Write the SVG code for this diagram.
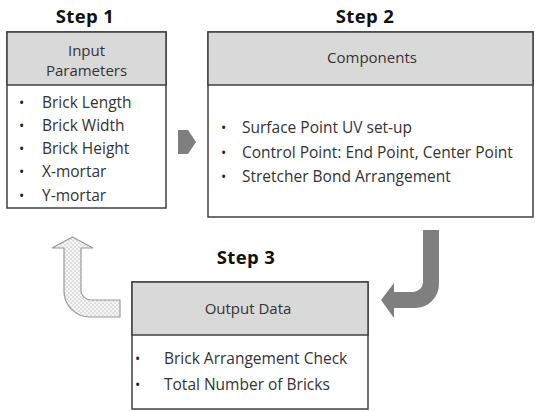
<svg xmlns="http://www.w3.org/2000/svg" width="535" height="411" viewBox="0 0 535 411">
  <style>
    .box { fill: #ffffff; stroke: #404040; stroke-width: 1.5; }
    .head { fill: #d9d9d9; stroke: #404040; stroke-width: 1.5; }
    .title { font-family: "Open Sans", "Noto Sans", sans-serif; font-size: 18.5px; font-weight: bold; fill: #111; text-anchor: middle; letter-spacing: 0.4px; }
    .hdr { font-family: "Open Sans", "Noto Sans", sans-serif; font-size: 15px; fill: #333; text-anchor: middle; }
    .item { font-family: "Open Sans", "Noto Sans", sans-serif; font-size: 15.5px; fill: #333; }
    .dot { font-family: "Open Sans", "Noto Sans", sans-serif; font-size: 14px; fill: #222; }
    .solid { fill: #7f7f7f; }
    .hollow { fill: url(#dots); stroke: #9a9a9a; stroke-width: 1.2; }
  </style>
  <defs>
    <pattern id="dots" width="4" height="4" patternUnits="userSpaceOnUse">
      <rect width="4" height="4" fill="#f6f6f6"/>
      <circle cx="1" cy="1" r="0.55" fill="#8a8a8a"/>
      <circle cx="3" cy="3" r="0.55" fill="#8a8a8a"/>
    </pattern>
  </defs>

  <rect width="535" height="411" fill="#ffffff"/>

  <!-- Step 1: input parameters -->
  <g id="step1">
    <text class="title" x="85" y="23">Step 1</text>
    <rect class="box" x="7" y="32" width="159" height="176"/>
    <rect class="head" x="7" y="32" width="159" height="53"/>
    <text class="hdr" x="86.5" y="56">Input</text>
    <text class="hdr" x="86.5" y="76">Parameters</text>
    <text class="dot" x="19" y="108">•</text>
    <text class="item" x="42" y="108">Brick Length</text>
    <text class="dot" x="19" y="131">•</text>
    <text class="item" x="42" y="131">Brick Width</text>
    <text class="dot" x="19" y="154">•</text>
    <text class="item" x="42" y="154">Brick Height</text>
    <text class="dot" x="19" y="177">•</text>
    <text class="item" x="42" y="177">X-mortar</text>
    <text class="dot" x="19" y="201">•</text>
    <text class="item" x="42" y="201">Y-mortar</text>
  </g>

  <!-- Step 2: components -->
  <g id="step2">
    <text class="title" x="365" y="23">Step 2</text>
    <rect class="box" x="208" y="32" width="325" height="185"/>
    <rect class="head" x="208" y="32" width="325" height="53"/>
    <text class="hdr" x="372" y="63">Components</text>
    <text class="dot" x="221" y="133">•</text>
    <text class="item" x="242" y="133">Surface Point UV set-up</text>
    <text class="dot" x="221" y="158">•</text>
    <text class="item" x="242" y="158">Control Point: End Point, Center Point</text>
    <text class="dot" x="221" y="182">•</text>
    <text class="item" x="242" y="182">Stretcher Bond Arrangement</text>
  </g>

  <!-- Step 3: output data -->
  <g id="step3">
    <text class="title" x="246" y="264">Step 3</text>
    <rect class="box" x="132" y="282" width="236" height="127"/>
    <rect class="head" x="132" y="282" width="236" height="53"/>
    <text class="hdr" x="248" y="314">Output Data</text>
    <text class="dot" x="135" y="364">•</text>
    <text class="item" x="164" y="364">Brick Arrangement Check</text>
    <text class="dot" x="135" y="390">•</text>
    <text class="item" x="164" y="390">Total Number of Bricks</text>
  </g>

  <!-- Flow arrows between the steps -->
  <g id="connectors">
    <path class="solid" d="M178,130 L188,130 L196,142 L188,154 L178,154 Z"/>
    <path class="solid" d="M423,230 L439,230 L439,284 A24,24 0 0 1 415,308 L394,308 L394,318 L381,300 L394,283 L394,292 L413,292 A10,10 0 0 0 423,282 Z"/>
    <path class="hollow" d="M72.5,237 L93,248 L81,248 L81,290 A10,10 0 0 0 91,300 L120,300 L120,317 L90,317 A26,26 0 0 1 64,291 L64,248 L52,248 Z"/>
  </g>
</svg>
